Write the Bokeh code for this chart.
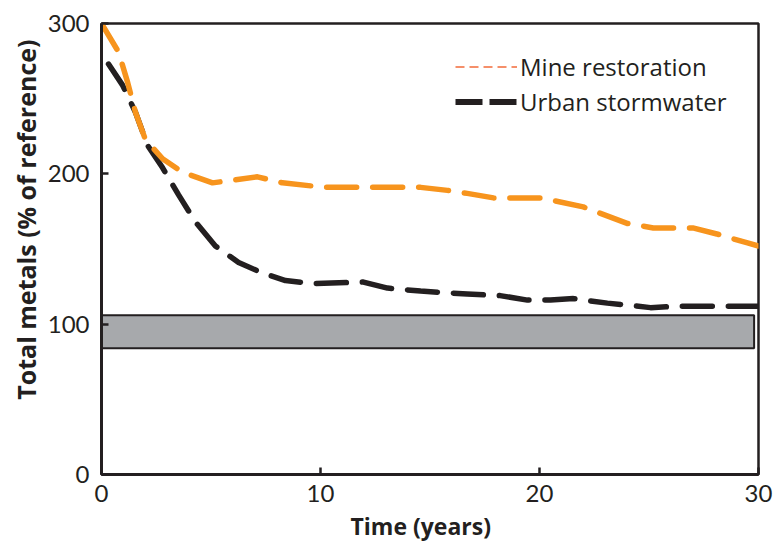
from bokeh.plotting import figure
from bokeh.models import Range1d, FixedTicker, Legend, LegendItem, ColumnDataSource, Title
from bokeh.embed import file_html
from bokeh.resources import INLINE

# ---- data ----
mine_years = [0, 0.78, 1.19, 1.55, 2.0, 2.79, 3.7, 5.07, 6.12, 7.12, 8.26, 10.2,
              13.65, 14.57, 15.8, 16.7, 17.9, 20.05, 22.0, 24.0, 25.2, 26.1, 27.0,
              28.1, 29.5, 30]
mine_metals = [300, 281, 261, 241, 223, 210, 201, 194, 196, 198, 194, 191,
               191, 191, 189, 187, 184, 184, 178, 167, 164, 164, 164,
               160, 154, 152]

urban_years = [0.32, 0.96, 1.55, 2.1, 2.79, 3.52, 4.29, 5.2, 6.26, 7.35, 8.4, 9.63,
               11.96, 13.06, 14.57, 16.7, 18.2, 19.45, 20.5, 21.55, 23.1, 23.8,
               25.07, 26.4, 29.5, 30]
urban_metals = [273, 259, 241, 219, 204, 186, 168, 152, 141, 134, 129, 127,
                128, 124, 122, 120, 119, 116, 116, 117, 114, 113,
                111, 112, 112, 112]

ref_band_start = [0]
ref_band_end = [29.8]
ref_band_low = [84]
ref_band_high = [106]

x_ticks = [0, 10, 20, 30]
y_ticks = [0, 100, 200, 300]

TXT = "#231f20"
FONT = "Lato"
LFONT = "Open Sans"

p = figure(width=781, height=549, output_backend="svg", toolbar_location=None,
           x_range=Range1d(0, 30), y_range=Range1d(0, 300),
           frame_width=657, frame_height=451,
           min_border_left=101, min_border_right=23, min_border_top=23, min_border_bottom=75)

p.xgrid.visible = False
p.ygrid.visible = False
p.background_fill_color = "white"
p.border_fill_color = "white"
p.outline_line_color = TXT
p.outline_line_width = 2.5

# reference band
p.quad(left=ref_band_start, right=ref_band_end, bottom=ref_band_low, top=ref_band_high,
       fill_color="#a7a9ac", line_color=TXT, line_width=2)

src_m = ColumnDataSource(dict(x=mine_years, y=mine_metals))
src_u = ColumnDataSource(dict(x=urban_years, y=urban_metals))
p.line("x", "y", source=src_u, line_color=TXT, line_width=5.5, line_dash="30 16",
       line_cap="round", line_join="round")
p.line("x", "y", source=src_m, line_color="#f7941d", line_width=5.5, line_dash="30 16",
       line_cap="round", line_join="round")

# legend proxies (hidden renderers, styled as the reference legend keys)
leg_m = p.line("x", "y", source=src_m, line_color="#f26b3a", line_width=1.5,
               line_dash="9 5", visible=False)
leg_u = p.line("x", "y", source=src_u, line_color=TXT, line_width=6,
               line_dash="27 7", visible=False)

legend = Legend(items=[LegendItem(label="Mine restoration", renderers=[leg_m]),
                       LegendItem(label="Urban stormwater", renderers=[leg_u])],
                location=(354, 355), orientation="vertical")
legend.border_line_color = None
legend.background_fill_alpha = 0
legend.inactive_fill_alpha = 0
legend.padding = 0
legend.margin = 0
legend.spacing = 0
legend.glyph_width = 62
legend.glyph_height = 35
legend.label_standoff = 3
legend.label_text_font = LFONT
legend.label_text_font_size = "24px"
legend.label_text_color = TXT
p.add_layout(legend, "center")

for ax in (p.xaxis[0], p.yaxis[0]):
    ax.axis_line_color = TXT
    ax.axis_line_width = 3
    ax.major_tick_line_color = TXT
    ax.major_tick_line_width = 2.5
    ax.major_tick_in = 7
    ax.major_tick_out = 0
    ax.minor_tick_line_color = None
    ax.major_label_text_font = FONT
    ax.major_label_text_font_size = "24px"
    ax.major_label_text_color = TXT

p.xaxis.ticker = FixedTicker(ticks=x_ticks)
p.yaxis.ticker = FixedTicker(ticks=y_ticks)
p.xaxis.major_label_standoff = 10
p.yaxis.major_label_standoff = 12

ytitle = Title(text="Total metals (% of reference)", align="right", offset=16,
               text_font=LFONT, text_font_size="25px", text_font_style="bold",
               text_color=TXT, standoff=4)
p.add_layout(ytitle, "left")

xtitle = Title(text="Time (years)", align="left", offset=249,
               text_font=LFONT, text_font_size="23px", text_font_style="bold",
               text_color=TXT, standoff=7)
p.add_layout(xtitle, "below")

open("out.html", "w").write(file_html(p, INLINE))
